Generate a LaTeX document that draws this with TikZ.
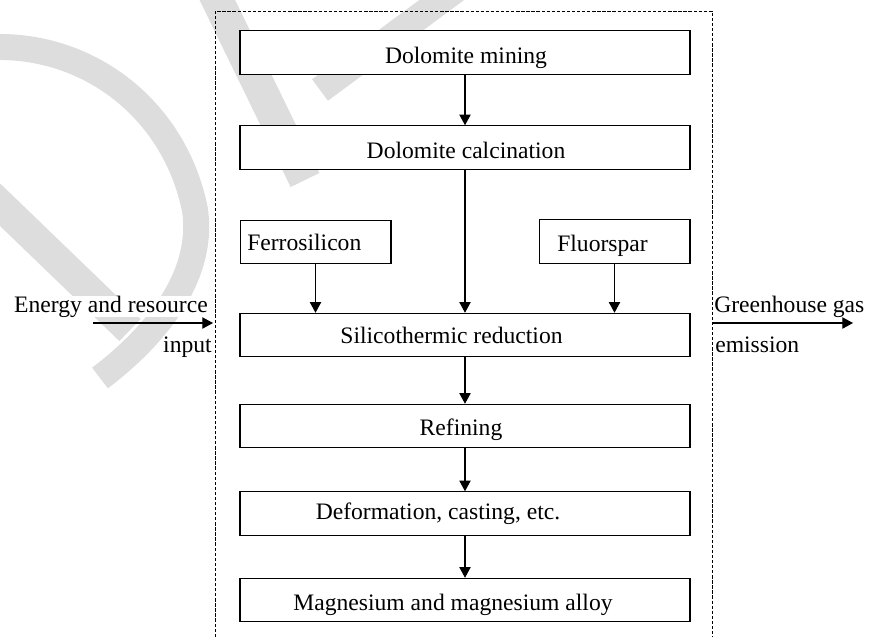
\documentclass[tikz,border=0pt]{standalone}
\usepackage{fontspec}
\setmainfont{Liberation Serif}
\usetikzlibrary{arrows.meta}
\definecolor{wmgray}{RGB}{221,221,221}
\begin{document}
\begin{tikzpicture}[x=0.75pt,y=-0.75pt,
  font=\fontsize{17.7}{20}\selectfont,
  wm/.style={draw=wmgray, line cap=butt},
  stage/.style={draw, line width=0.8pt, fill=white, inner sep=0pt,
    minimum width=337.5pt, minimum height=32.6pt},
  side/.style={stage, minimum width=113.2pt},
  lbl/.style={anchor=base, inner sep=0pt},
  io/.style={inner sep=0pt, fill=white},
  flow/.style={line width=0.8pt, -{Triangle[length=8pt,width=8.5pt]}},
  boundary/.style={line width=0.7pt, dash pattern=on 2.5pt off 1.3pt}]

\useasboundingbox (0,0) rectangle (874,637);

% background watermark strokes
\draw[wm, line width=19.5pt] (-5,47) .. controls (90,45) and (175,110) .. (195,210)
  .. controls (205,280) and (150,340) .. (100,378);
\draw[wm, line width=23pt] (-10,195) -- (130,330);
\draw[wm, line width=24pt] (210,-15) -- (305,180);
\draw[wm, line width=20pt] (462,-15) -- (320,90);

% system boundary (open at the bottom)
\coordinate (bl) at (215,637);
\coordinate (tl) at (215,11);
\coordinate (tr) at (712,11);
\coordinate (br) at (712,637);
\draw[boundary] (bl) -- (tl) -- (tr) -- (br);

% process stages
\node[stage] (mine)   at (465,52.5)  {};
\node[stage] (calc)   at (465,147.5) {};
\node[side]  (ferro)  at (315.5,242) {};
\node[side]  (fluor)  at (614.5,241.5) {};
\node[stage] (silico) at (465,335)   {};
\node[stage] (refin)  at (465,426)   {};
\node[stage] (deform) at (465,513.5) {};
\node[stage] (magn)   at (465,600)   {};

\node[lbl] (tmine)   at (466,63)    {Dolomite mining};
\node[lbl] (tcalc)   at (466,158)   {Dolomite calcination};
\node[lbl, anchor=base west] (tferro) at (247,250) {Ferrosilicon};
\node[lbl, anchor=base west] (tfluor) at (557,251) {Fluorspar};
\node[lbl] (tsilico) at (451.5,343) {Silicothermic reduction};
\node[lbl] (trefin)  at (461,435)   {Refining};
\node[lbl] (tdeform) at (438,519)   {Deformation, casting, etc.};
\node[lbl] (tmagn)   at (453,610)   {Magnesium and magnesium alloy};

% flows between stages
\draw[flow] (mine) -- (calc);
\draw[flow] (calc) -- (silico);
\draw[flow] (ferro.south) -- (ferro.south |- silico.north);
\draw[flow] (fluor.south) -- (fluor.south |- silico.north);
\draw[flow] (silico) -- (refin);
\draw[flow] (refin) -- (deform);
\draw[flow] (deform) -- (magn);

% inputs and outputs across the boundary
\node[io, anchor=base east] (ein)  at (208,312) {Energy and resource};
\node[io, anchor=base east] (ein2) at (212,352) {input};
\node[io, anchor=base west] (gout)  at (714,312) {Greenhouse gas};
\node[io, anchor=base west] (gout2) at (715,352) {emission};

\coordinate (inS)  at (93,323);
\coordinate (inE)  at (213,323);
\coordinate (outS) at (712,323);
\coordinate (outE) at (853,323);
\draw[flow] (inS) -- (inE);
\draw[flow] (outS) -- (outE);
\end{tikzpicture}
\end{document}
